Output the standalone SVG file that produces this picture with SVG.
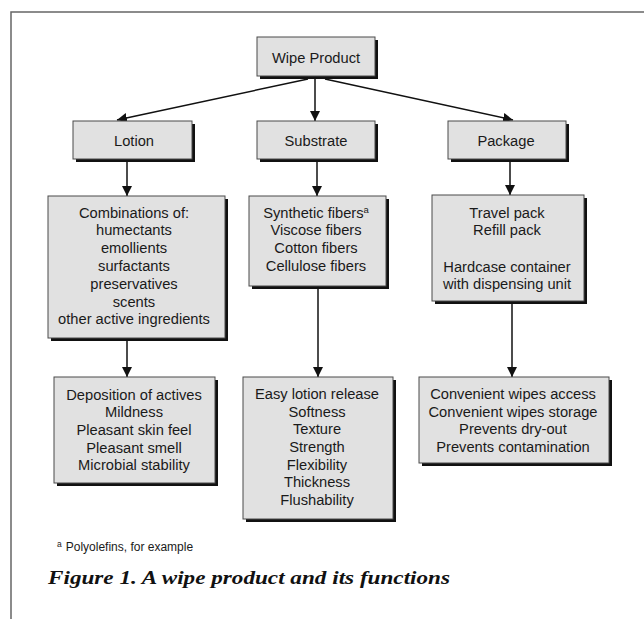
<svg xmlns="http://www.w3.org/2000/svg" width="644" height="619" viewBox="0 0 644 619">
<defs>
<style>
.box{fill:#e1e1e1;stroke:#4a4a4a;stroke-width:1}
.sh{fill:#111}
.t{font-family:"Liberation Sans",Arial,Helvetica,sans-serif;font-size:14.7px;fill:#1a1a1a;text-anchor:middle}
.c{stroke:#111;stroke-width:1.5;fill:none;marker-end:url(#ah)}
.frame{stroke:#666;stroke-width:1.5;fill:none}
</style>
<marker id="ah" viewBox="0 0 10 10" refX="10" refY="5" markerWidth="10" markerHeight="10" markerUnits="userSpaceOnUse" orient="auto">
<path d="M0,0 L10,5 L0,10 z" fill="#111"/>
</marker>
</defs>
<rect width="644" height="619" fill="#fff"/>
<path class="frame" d="M11,619 V12 H644"/>

<g id="connectors">
<line class="c" x1="308" y1="79" x2="117" y2="120"/>
<line class="c" x1="315" y1="79" x2="315" y2="121"/>
<line class="c" x1="325" y1="79" x2="513" y2="120"/>
<line class="c" x1="127" y1="162" x2="127" y2="196"/>
<line class="c" x1="317" y1="162" x2="317" y2="196"/>
<line class="c" x1="510" y1="162" x2="510" y2="195"/>
<line class="c" x1="127" y1="341" x2="127" y2="377"/>
<line class="c" x1="318" y1="289" x2="318" y2="377"/>
<line class="c" x1="512" y1="304" x2="512" y2="377"/>
</g>

<g id="wipe-product">
<rect class="sh" x="260" y="40" width="118" height="39"/>
<rect class="box" x="257" y="37" width="118" height="39"/>
<text class="t" x="316" y="63">Wipe Product</text>
</g>

<g id="lotion">
<rect class="sh" x="76" y="124" width="119" height="38"/>
<rect class="box" x="73" y="121" width="119" height="38"/>
<text class="t" x="134" y="146">Lotion</text>
</g>

<g id="substrate">
<rect class="sh" x="260" y="124" width="118" height="38"/>
<rect class="box" x="257" y="121" width="118" height="38"/>
<text class="t" x="316" y="146">Substrate</text>
</g>

<g id="package">
<rect class="sh" x="451" y="124" width="118" height="38"/>
<rect class="box" x="448" y="121" width="118" height="38"/>
<text class="t" x="506" y="146">Package</text>
</g>

<g id="lotion-ingredients">
<rect class="sh" x="51" y="199" width="177" height="142"/>
<rect class="box" x="48" y="196" width="177" height="142"/>
<text class="t" x="134" y="217.5">Combinations of:</text>
<text class="t" x="134" y="235.3">humectants</text>
<text class="t" x="134" y="253.1">emollients</text>
<text class="t" x="134" y="270.9">surfactants</text>
<text class="t" x="134" y="288.7">preservatives</text>
<text class="t" x="134" y="306.5">scents</text>
<text class="t" x="134" y="324.3">other active ingredients</text>
</g>

<g id="substrate-fibers">
<rect class="sh" x="252" y="199" width="137" height="90"/>
<rect class="box" x="249" y="196" width="137" height="90"/>
<text class="t" x="316" y="217.5">Synthetic fibers<tspan font-size="9.5" dy="-5">a</tspan></text>
<text class="t" x="316" y="235.3">Viscose fibers</text>
<text class="t" x="316" y="253.1">Cotton fibers</text>
<text class="t" x="316" y="270.9">Cellulose fibers</text>
</g>

<g id="package-types">
<rect class="sh" x="435" y="198" width="152" height="106"/>
<rect class="box" x="432" y="195" width="152" height="106"/>
<text class="t" x="507" y="217.5">Travel pack</text>
<text class="t" x="507" y="235.3">Refill pack</text>
<text class="t" x="507" y="271.5">Hardcase container</text>
<text class="t" x="507" y="289.3">with dispensing unit</text>
</g>

<g id="lotion-functions">
<rect class="sh" x="57" y="380" width="161" height="106"/>
<rect class="box" x="54" y="377" width="161" height="106"/>
<text class="t" x="134" y="399.5">Deposition of actives</text>
<text class="t" x="134" y="417.2">Mildness</text>
<text class="t" x="134" y="434.9">Pleasant skin feel</text>
<text class="t" x="134" y="452.6">Pleasant smell</text>
<text class="t" x="134" y="470.3">Microbial stability</text>
</g>

<g id="substrate-functions">
<rect class="sh" x="246" y="380" width="150" height="142"/>
<rect class="box" x="243" y="377" width="150" height="142"/>
<text class="t" x="317" y="398.8">Easy lotion release</text>
<text class="t" x="317" y="416.5">Softness</text>
<text class="t" x="317" y="434.2">Texture</text>
<text class="t" x="317" y="451.9">Strength</text>
<text class="t" x="317" y="469.6">Flexibility</text>
<text class="t" x="317" y="487.3">Thickness</text>
<text class="t" x="317" y="505">Flushability</text>
</g>

<g id="package-functions">
<rect class="sh" x="422" y="380" width="190" height="86"/>
<rect class="box" x="419" y="377" width="190" height="86"/>
<text class="t" x="513" y="398.8">Convenient wipes access</text>
<text class="t" x="513" y="416.5">Convenient wipes storage</text>
<text class="t" x="513" y="434.2">Prevents dry-out</text>
<text class="t" x="513" y="451.9">Prevents contamination</text>
</g>

<text x="57" y="551" font-family="'Liberation Sans',Arial,sans-serif" font-size="12" fill="#1a1a1a"><tspan font-size="8.5" dy="-4">a</tspan><tspan dx="4" dy="4">Polyolefins, for example</tspan></text>
<text x="48" y="584" font-family="'Liberation Serif','Times New Roman',serif" font-size="19" font-weight="bold" font-style="italic" fill="#111" textLength="402" lengthAdjust="spacingAndGlyphs">Figure 1. A wipe product and its functions</text>
</svg>
